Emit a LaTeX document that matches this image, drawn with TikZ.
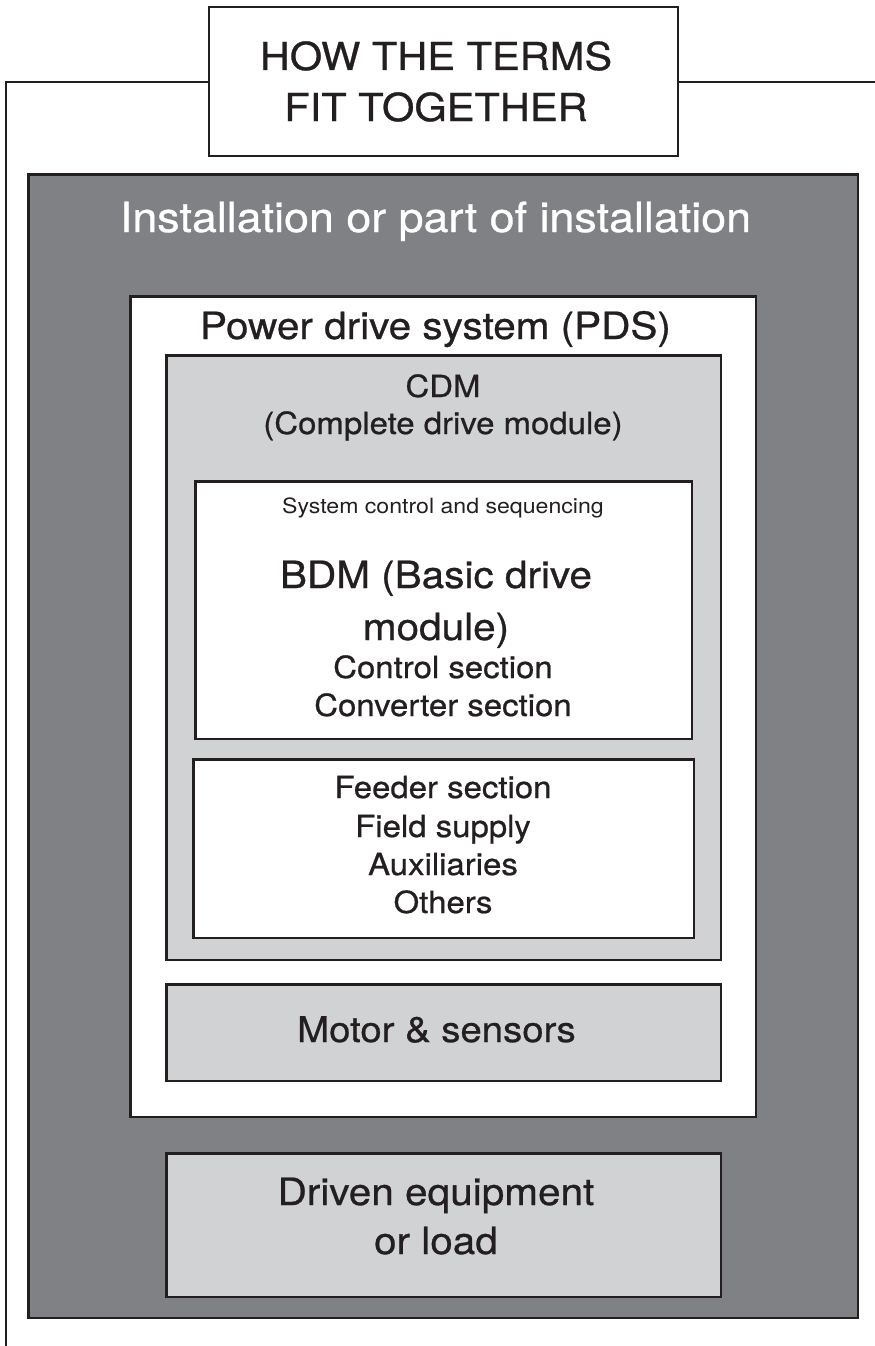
\documentclass[tikz,border=0pt]{standalone}
\usepackage{fontspec}
\setmainfont{TeX Gyre Heros}[FakeStretch=1.08, FakeBold=0.7]
\newfontfamily\thinfont{TeX Gyre Heros}[FakeStretch=1.1]
\usetikzlibrary{positioning}
\definecolor{ink}{HTML}{231F20}
\definecolor{instgray}{HTML}{808185}
\definecolor{boxgray}{HTML}{D1D2D4}

\begin{document}
\begin{tikzpicture}
[x=1pt, y=-1pt,
 panel/.style={draw=ink, line width=2.5pt, inner sep=0pt, outer sep=0pt},
 frame/.style={draw=ink, line width=2pt},
 txt/.style={anchor=base, inner sep=0pt, text=ink},
 huge/.style={font=\fontsize{38.5}{44}\selectfont},
 large/.style={font=\fontsize{37.5}{44}\selectfont},
 mid/.style={font=\fontsize{30.5}{36}\selectfont},
 tiny/.style={font=\thinfont\fontsize{21}{25}\selectfont}]
\useasboundingbox (0,0) rectangle (875,1346);
\node[panel, line width=2pt, fill=white, minimum width=469pt, minimum height=149pt] (title) at (443.5,81.5) {};
\coordinate (fend) at (6,1346);
\coordinate (rend) at (875,81.5);
\draw[frame] (title.west) -| (fend);
\draw[frame] (title.east) -- (rend);
\node[txt, huge] (ttl1) at (436,70) {HOW THE TERMS};
\node[txt, huge] (ttl2) at ([yshift=-51pt]ttl1.base) {FIT TOGETHER};

\node[panel, fill=instgray, minimum width=829.5pt, minimum height=1143.5pt] (inst) at (443,746) {};
\node[txt, font=\fontsize{41.5}{48}\selectfont, text=white] (instlbl) at (435.5,232) {Installation or part of installation};

\node[panel, fill=white, minimum width=625.5pt, minimum height=820.5pt] (pds) at (443,706.5) {};
\node[txt, large] (pdslbl) at (435.5,339) {Power drive system (PDS)};

\node[panel, fill=boxgray, minimum width=554.5pt, minimum height=604.5pt] (cdm) at (443.5,657.5) {};
\node[txt, mid] (cdm1) at (443,397) {CDM};
\node[txt, mid] (cdm2) at ([yshift=-37pt]cdm1.base) {(Complete drive module)};

\node[panel, fill=white, minimum width=496.5pt, minimum height=257.5pt] (bdm) at (443.5,610) {};
\node[txt, tiny] (sys) at (443,513) {System control and sequencing};
\node[txt, large] (bdm1) at (436,588) {BDM (Basic drive};
\node[txt, large] (bdm2) at ([yshift=-52pt]bdm1.base) {module)};
\node[txt, mid] (ctrl) at (443,678) {Control section};
\node[txt, mid] (conv) at ([yshift=-38pt]ctrl.base) {Converter section};

\node[panel, fill=white, minimum width=500.5pt, minimum height=178.5pt] (feeder) at (443.5,848.5) {};
\node[txt, mid] (feed1) at (443,798) {Feeder section};
\node[txt, mid] (feed2) at ([yshift=-39pt]feed1.base) {Field supply};
\node[txt, mid] (feed3) at ([yshift=-38pt]feed2.base) {Auxiliaries};
\node[txt, mid] (feed4) at ([yshift=-38pt]feed3.base) {Others};

\node[panel, fill=boxgray, minimum width=554.5pt, minimum height=96.5pt] (motor) at (443.5,1032.5) {};
\node[txt, font=\fontsize{35.5}{42}\selectfont] (motorlbl) at (436.5,1042) {Motor \& sensors};

\node[panel, fill=boxgray, minimum width=554.5pt, minimum height=143.5pt] (driven) at (443.5,1225) {};
\node[txt, large] (drv1) at (436,1205) {Driven equipment};
\node[txt, large] (drv2) at ([yshift=-49pt]drv1.base) {or load};
\end{tikzpicture}
\end{document}
